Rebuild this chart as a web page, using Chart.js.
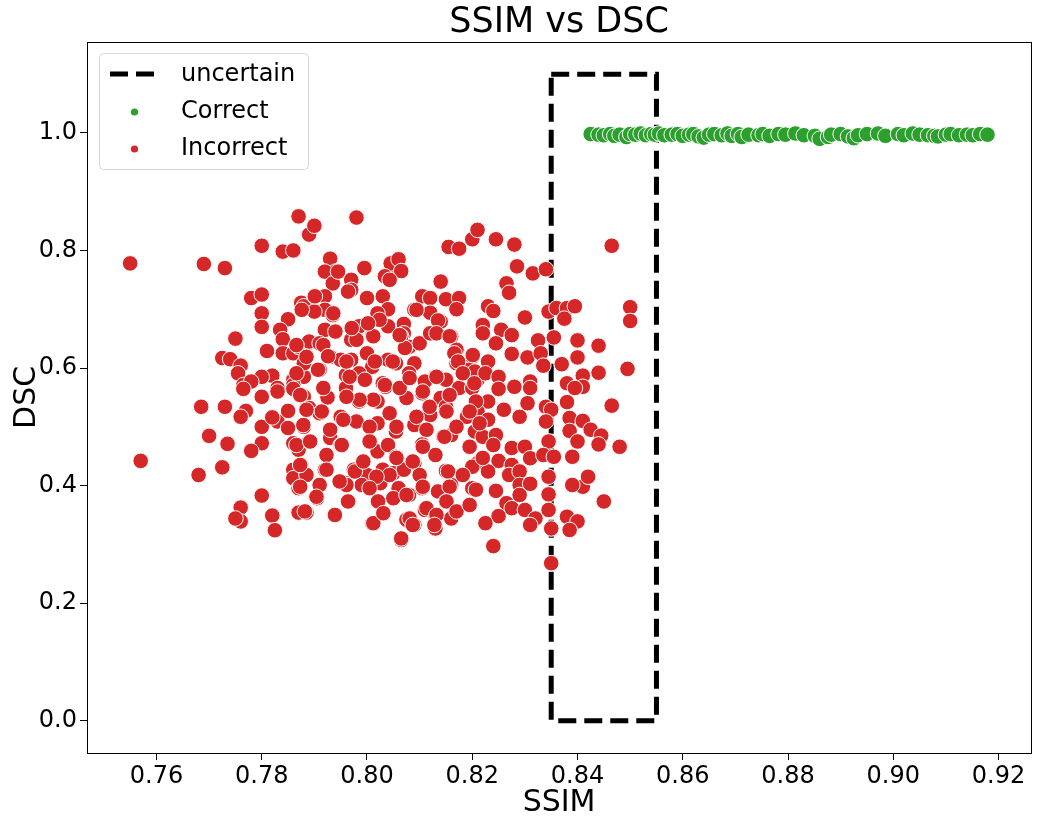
<!DOCTYPE html>
<html>
<head>
<meta charset="utf-8">
<title>SSIM vs DSC</title>
<script src="https://cdn.jsdelivr.net/npm/chart.js@4.4.1/dist/chart.umd.min.js"></script>
<style>
    html, body { margin: 0; padding: 0; background: #fff; }
</style>
</head>
<body>
<canvas id="chartSsimDsc" width="1040" height="824"></canvas>
<script>
const xTicks = [0.76, 0.78, 0.80, 0.82, 0.84, 0.86, 0.88, 0.90, 0.92];
const yTicks = [0.0, 0.2, 0.4, 0.6, 0.8, 1.0];

// dashed "uncertain" box
const boxSsim = [0.835, 0.855, 0.855, 0.835, 0.835];
const boxDsc = [1.1, 1.1, 0.0, 0.0, 1.1];

const correct = [
    [0.8425, 0.998], [0.8440, 0.997], [0.8450, 0.996], [0.8462, 0.998], [0.8470, 0.995], [0.8480, 0.997],
    [0.8493, 0.993], [0.8500, 0.998], [0.8510, 0.997], [0.8520, 0.999], [0.8530, 0.996], [0.8540, 0.998],
    [0.8547, 0.997], [0.8555, 0.999], [0.8565, 0.996], [0.8579, 0.997], [0.8590, 0.998], [0.8600, 0.995],
    [0.8612, 0.997], [0.8620, 0.998], [0.8630, 0.994], [0.8640, 0.992], [0.8650, 0.997], [0.8660, 0.998],
    [0.8674, 0.996], [0.8685, 0.999], [0.8693, 0.995], [0.8705, 0.998], [0.8712, 0.993], [0.8725, 0.997],
    [0.8744, 0.996], [0.8752, 0.998], [0.8765, 0.995], [0.8782, 0.998], [0.8795, 0.997], [0.8814, 0.999],
    [0.8830, 0.996], [0.8851, 0.995], [0.8860, 0.990], [0.8876, 0.993], [0.8882, 0.997], [0.8900, 0.998],
    [0.8914, 0.994], [0.8925, 0.991], [0.8933, 0.996], [0.8950, 0.998], [0.8971, 0.999], [0.8985, 0.995],
    [0.9009, 0.998], [0.9020, 0.996], [0.9037, 0.999], [0.9050, 0.997], [0.9066, 0.996], [0.9078, 0.995],
    [0.9085, 0.994], [0.9100, 0.997], [0.9109, 0.998], [0.9125, 0.996], [0.9140, 0.997], [0.9151, 0.996],
    [0.9165, 0.998], [0.9179, 0.997]
];

const incorrect = [
    [0.755, 0.778], [0.769, 0.777], [0.773, 0.770], [0.780, 0.808], [0.784, 0.798], [0.786, 0.800],
    [0.787, 0.858], [0.789, 0.827], [0.778, 0.719], [0.780, 0.725], [0.780, 0.693], [0.780, 0.670],
    [0.7875, 0.711], [0.788, 0.705], [0.785, 0.683], [0.7835, 0.665], [0.775, 0.650], [0.784, 0.649],
    [0.781, 0.629], [0.784, 0.625], [0.786, 0.625], [0.787, 0.636], [0.789, 0.643], [0.7725, 0.617],
    [0.774, 0.615], [0.776, 0.604], [0.7755, 0.591], [0.782, 0.587], [0.780, 0.585], [0.786, 0.580],
    [0.788, 0.585], [0.788, 0.608], [0.7765, 0.571], [0.778, 0.577], [0.786, 0.571], [0.783, 0.566],

    [0.790, 0.842], [0.798, 0.856], [0.8155, 0.806], [0.8175, 0.803], [0.820, 0.819], [0.821, 0.835],
    [0.793, 0.786], [0.794, 0.764], [0.792, 0.764], [0.7935, 0.744], [0.797, 0.750], [0.7995, 0.770],
    [0.797, 0.733], [0.800, 0.719], [0.803, 0.722], [0.804, 0.756], [0.8045, 0.778], [0.806, 0.785],
    [0.8065, 0.765], [0.814, 0.747], [0.804, 0.700], [0.802, 0.693], [0.809, 0.699], [0.8105, 0.722],
    [0.812, 0.719], [0.815, 0.717], [0.8175, 0.719], [0.817, 0.700], [0.812, 0.694], [0.814, 0.679],
    [0.8135, 0.681], [0.790, 0.722], [0.792, 0.722], [0.792, 0.699], [0.7935, 0.690], [0.790, 0.696],
    [0.792, 0.665], [0.794, 0.662], [0.7985, 0.671], [0.797, 0.648], [0.801, 0.655], [0.804, 0.671],
    [0.807, 0.675], [0.807, 0.659], [0.808, 0.636], [0.810, 0.642], [0.812, 0.659], [0.816, 0.6535],
    [0.817, 0.631], [0.820, 0.619], [0.789, 0.645], [0.791, 0.642], [0.7885, 0.619], [0.793, 0.619],
    [0.795, 0.614], [0.797, 0.614], [0.800, 0.625], [0.801, 0.602], [0.804, 0.614], [0.8055, 0.608],
    [0.809, 0.608], [0.808, 0.591], [0.813, 0.585], [0.817, 0.608], [0.8195, 0.597], [0.791, 0.597],
    [0.796, 0.588], [0.7985, 0.591], [0.803, 0.574], [0.811, 0.577], [0.815, 0.580], [0.821, 0.580],

    [0.8245, 0.819], [0.828, 0.810], [0.8465, 0.808], [0.8285, 0.773], [0.8315, 0.761], [0.834, 0.768],
    [0.8265, 0.744], [0.827, 0.728], [0.823, 0.705], [0.824, 0.697], [0.830, 0.686], [0.8345, 0.696],
    [0.836, 0.702], [0.838, 0.702], [0.8395, 0.705], [0.8375, 0.684], [0.850, 0.7035], [0.850, 0.680],
    [0.822, 0.673], [0.822, 0.659], [0.8255, 0.665], [0.8275, 0.656], [0.8245, 0.642], [0.8325, 0.647],
    [0.8355, 0.652], [0.840, 0.647], [0.844, 0.638], [0.8275, 0.624], [0.8305, 0.618], [0.833, 0.625],
    [0.8335, 0.604], [0.837, 0.6065], [0.840, 0.618], [0.841, 0.587], [0.844, 0.592], [0.8495, 0.5985],
    [0.823, 0.611], [0.8205, 0.594], [0.8225, 0.591], [0.825, 0.585], [0.828, 0.568], [0.831, 0.577],
    [0.838, 0.574], [0.841, 0.568],

    [0.757, 0.442], [0.7685, 0.534], [0.773, 0.534], [0.770, 0.4845], [0.7735, 0.471], [0.7725, 0.431],
    [0.768, 0.418], [0.7765, 0.5645], [0.780, 0.551], [0.777, 0.527], [0.776, 0.517], [0.780, 0.500],
    [0.783, 0.509], [0.782, 0.516], [0.783, 0.560], [0.786, 0.5645], [0.785, 0.527], [0.788, 0.551],
    [0.789, 0.532], [0.785, 0.498], [0.788, 0.500], [0.780, 0.472], [0.778, 0.459], [0.786, 0.472],
    [0.787, 0.461], [0.789, 0.475], [0.7875, 0.435], [0.786, 0.427], [0.786, 0.4125], [0.787, 0.3955],
    [0.7885, 0.418], [0.780, 0.383], [0.776, 0.3625], [0.776, 0.339], [0.775, 0.344], [0.782, 0.349],
    [0.7825, 0.324], [0.787, 0.354], [0.7885, 0.354],

    [0.7925, 0.550], [0.796, 0.566], [0.7985, 0.543], [0.802, 0.543], [0.8035, 0.568], [0.8075, 0.549],
    [0.8105, 0.557], [0.814, 0.549], [0.815, 0.534], [0.8175, 0.566], [0.820, 0.566], [0.819, 0.517],
    [0.791, 0.523], [0.795, 0.517], [0.798, 0.509], [0.802, 0.506], [0.8055, 0.492], [0.809, 0.503],
    [0.812, 0.520], [0.816, 0.486], [0.8145, 0.483], [0.8195, 0.466], [0.8205, 0.492], [0.793, 0.481],
    [0.795, 0.469], [0.8005, 0.475], [0.802, 0.458], [0.804, 0.469], [0.8055, 0.449], [0.8105, 0.470],
    [0.809, 0.438], [0.813, 0.452], [0.792, 0.427], [0.7975, 0.427], [0.800, 0.418], [0.803, 0.427],
    [0.805, 0.421], [0.807, 0.427], [0.810, 0.418], [0.815, 0.425], [0.818, 0.418], [0.821, 0.438],
    [0.791, 0.401], [0.796, 0.404], [0.799, 0.401], [0.8025, 0.404], [0.806, 0.3955], [0.808, 0.384],
    [0.8105, 0.3955], [0.8135, 0.390], [0.816, 0.401], [0.820, 0.3955], [0.7905, 0.3785], [0.7965, 0.373],
    [0.802, 0.373], [0.805, 0.3785], [0.815, 0.373], [0.8195, 0.367], [0.794, 0.350], [0.803, 0.353],
    [0.811, 0.3585], [0.813, 0.350], [0.816, 0.344], [0.801, 0.336], [0.8075, 0.342], [0.809, 0.333],
    [0.813, 0.327], [0.8065, 0.3075],

    [0.825, 0.5645], [0.831, 0.566], [0.823, 0.543], [0.826, 0.529], [0.829, 0.517], [0.8305, 0.540],
    [0.821, 0.526], [0.823, 0.512], [0.834, 0.534], [0.835, 0.529], [0.838, 0.542], [0.8395, 0.566],
    [0.8465, 0.536], [0.834, 0.509], [0.8385, 0.515], [0.841, 0.510], [0.8385, 0.493], [0.8425, 0.495],
    [0.8445, 0.485], [0.844, 0.470], [0.848, 0.466], [0.822, 0.483], [0.8245, 0.486], [0.824, 0.469],
    [0.8275, 0.464], [0.830, 0.466], [0.831, 0.4465], [0.8345, 0.475], [0.8335, 0.452], [0.8355, 0.449],
    [0.839, 0.449], [0.840, 0.475], [0.820, 0.432], [0.825, 0.442], [0.8275, 0.435], [0.823, 0.424],
    [0.827, 0.418], [0.829, 0.424], [0.8345, 0.415], [0.841, 0.398], [0.839, 0.401], [0.842, 0.415],
    [0.8245, 0.391], [0.829, 0.401], [0.831, 0.403], [0.829, 0.384], [0.8345, 0.385], [0.845, 0.373],
    [0.8265, 0.370], [0.8275, 0.3615], [0.830, 0.3585], [0.825, 0.348], [0.8225, 0.336], [0.832, 0.344],
    [0.831, 0.333], [0.8345, 0.3585], [0.835, 0.327], [0.838, 0.347], [0.840, 0.339], [0.8385, 0.3245],
    [0.824, 0.297], [0.835, 0.268],

    [0.7866, 0.639], [0.7917, 0.639], [0.7926, 0.620], [0.7907, 0.597], [0.7866, 0.591], [0.7980, 0.648],
    [0.8012, 0.654], [0.8065, 0.654], [0.8072, 0.634], [0.8015, 0.611], [0.8049, 0.611], [0.7961, 0.611],
    [0.7967, 0.585], [0.7917, 0.566], [0.7873, 0.554], [0.8034, 0.571], [0.8012, 0.546], [0.7986, 0.546],
    [0.8062, 0.566], [0.8081, 0.583], [0.8106, 0.560], [0.8132, 0.585], [0.8166, 0.625], [0.8173, 0.611],
    [0.8201, 0.622], [0.8182, 0.591], [0.8204, 0.574], [0.8157, 0.554], [0.8207, 0.543], [0.8195, 0.526],
    [0.8151, 0.526], [0.8119, 0.534], [0.8094, 0.517], [0.8043, 0.523], [0.8005, 0.500], [0.7955, 0.512],
    [0.7914, 0.526], [0.7879, 0.503], [0.7930, 0.495], [0.8056, 0.500], [0.8113, 0.495], [0.8170, 0.500],
    [0.8214, 0.506], [0.7885, 0.529], [0.7961, 0.551], [0.7996, 0.580], [0.8132, 0.659], [0.8157, 0.654],

    [0.7866, 0.469], [0.7892, 0.475], [0.7923, 0.452], [0.7952, 0.469], [0.8005, 0.475], [0.8056, 0.447],
    [0.8087, 0.441], [0.8106, 0.466], [0.8147, 0.483], [0.8195, 0.466], [0.8220, 0.447], [0.8154, 0.424],
    [0.8182, 0.418], [0.8207, 0.393], [0.8157, 0.398], [0.8106, 0.398], [0.8075, 0.384], [0.8043, 0.418],
    [0.8018, 0.415], [0.8005, 0.3955], [0.7977, 0.424], [0.7923, 0.427], [0.7873, 0.435], [0.7873, 0.398],
    [0.7904, 0.381], [0.7964, 0.373], [0.8021, 0.373], [0.7882, 0.356], [0.7939, 0.350], [0.8012, 0.336],
    [0.8031, 0.353], [0.8081, 0.344], [0.8087, 0.333], [0.8113, 0.3615], [0.8132, 0.350], [0.8151, 0.373],
    [0.8170, 0.356], [0.8195, 0.367], [0.8128, 0.333], [0.8065, 0.310], [0.7961, 0.401], [0.7993, 0.441],
    [0.7948, 0.407],

    [0.7945, 0.764], [0.7964, 0.730], [0.8034, 0.756], [0.8043, 0.750], [0.7876, 0.699], [0.7901, 0.722],
    [0.8024, 0.682], [0.8002, 0.676], [0.8094, 0.699], [0.7971, 0.668], [0.8062, 0.656], [0.7936, 0.693]
];

const GREEN = '#2ca02c';
const RED = '#d62728';
Chart.defaults.font.family = '"DejaVu Sans", sans-serif';
Chart.defaults.color = '#000';

const toPoints = (pairs) => pairs.map(p => ({ x: p[0], y: p[1] }));

// spines on all four sides
const frame = {
    id: 'frame',
    afterDraw(chart) {
        const { ctx, chartArea: a } = chart;
        ctx.save();
        ctx.strokeStyle = '#000';
        ctx.lineWidth = 1;
        ctx.strokeRect(Math.round(a.left) + 0.5, Math.round(a.top) + 0.5,
            Math.round(a.right - a.left), Math.round(a.bottom - a.top));
        ctx.restore();
    }
};

// legend box in the upper left corner of the plot
const insideLegend = {
    id: 'insideLegend',
    afterDraw(chart) {
        const ctx = chart.ctx;
        const ds = chart.data.datasets;
        const x = 99.5, y = 53.5, w = 209, h = 116, r = 4;
        ctx.save();
        ctx.beginPath();
        ctx.roundRect(x, y, w, h, r);
        ctx.fillStyle = 'rgba(255,255,255,0.8)';
        ctx.fill();
        ctx.strokeStyle = '#d6d6d6';
        ctx.lineWidth = 1;
        ctx.stroke();

        const rows = [74, 111, 148];
        ctx.font = '24px "DejaVu Sans"';
        ctx.textBaseline = 'middle';
        ds.forEach((d, i) => {
            const cy = rows[i];
            if (d.showLine) {
                ctx.beginPath();
                ctx.setLineDash([18, 8]);
                ctx.lineWidth = 5;
                ctx.strokeStyle = d.borderColor;
                ctx.moveTo(110, cy);
                ctx.lineTo(155, cy);
                ctx.stroke();
                ctx.setLineDash([]);
            } else {
                ctx.beginPath();
                ctx.arc(134.5, cy + 1, 3.6, 0, Math.PI * 2);
                ctx.fillStyle = d.backgroundColor;
                ctx.fill();
            }
            ctx.fillStyle = '#000';
            ctx.fillText(d.label, 181, cy + 1);
        });
        ctx.restore();
    }
};

new Chart(document.getElementById('chartSsimDsc'), {
    type: 'scatter',
    data: {
        datasets: [
            {
                label: 'uncertain',
                data: boxSsim.map((v, i) => ({ x: v, y: boxDsc[i] })),
                showLine: true,
                borderColor: '#000',
                borderWidth: 5,
                borderDash: [18, 8],
                borderCapStyle: 'butt',
                borderJoinStyle: 'miter',
                pointRadius: 0,
                fill: false,
                order: 3
            },
            {
                label: 'Correct',
                data: toPoints(correct),
                backgroundColor: GREEN,
                borderColor: '#fff',
                borderWidth: 1,
                pointRadius: 7.8,
                order: 2
            },
            {
                label: 'Incorrect',
                data: toPoints(incorrect),
                backgroundColor: RED,
                borderColor: '#fff',
                borderWidth: 1,
                pointRadius: 7.8,
                order: 1
            }
        ]
    },
    options: {
        responsive: false,
        animation: false,
        events: [],
        layout: { padding: { left: 0, right: 6, top: 0, bottom: 0 } },
        plugins: {
            legend: { display: false },
            tooltip: { enabled: false },
            title: {
                display: true,
                fullSize: false,
                text: 'SSIM vs DSC',
                color: '#000',
                font: { size: 35, weight: 'normal', lineHeight: 1.08 },
                padding: { top: 4, bottom: 0 }
            }
        },
        scales: {
            x: {
                type: 'linear',
                min: 0.7468,
                max: 0.9262,
                afterBuildTicks: (scale) => { scale.ticks = xTicks.map(v => ({ value: v })); },
                afterFit: (scale) => { scale.height = 71; },
                border: { display: false },
                grid: { drawOnChartArea: false, drawTicks: true, tickLength: 7, tickColor: '#000', lineWidth: 1 },
                ticks: {
                    autoSkip: false,
                    maxRotation: 0,
                    padding: 2,
                    color: '#000',
                    font: { size: 24 },
                    callback: (v) => Number(v).toFixed(2)
                },
                title: {
                    display: true,
                    text: 'SSIM',
                    color: '#000',
                    font: { size: 30 },
                    padding: { top: 0, bottom: 3 }
                }
            },
            y: {
                type: 'linear',
                min: -0.055,
                max: 1.155,
                afterBuildTicks: (scale) => { scale.ticks = yTicks.map(v => ({ value: v })); },
                afterFit: (scale) => { scale.width = 87; },
                border: { display: false },
                grid: { drawOnChartArea: false, drawTicks: true, tickLength: 7, tickColor: '#000', lineWidth: 1 },
                ticks: {
                    autoSkip: false,
                    padding: 3,
                    color: '#000',
                    font: { size: 24 },
                    callback: (v) => Number(v).toFixed(1)
                },
                title: {
                    display: true,
                    text: 'DSC',
                    color: '#000',
                    font: { size: 30 },
                    padding: { top: 9, bottom: 0 }
                }
            }
        }
    },
    plugins: [frame, insideLegend]
});
</script>
</body>
</html>
